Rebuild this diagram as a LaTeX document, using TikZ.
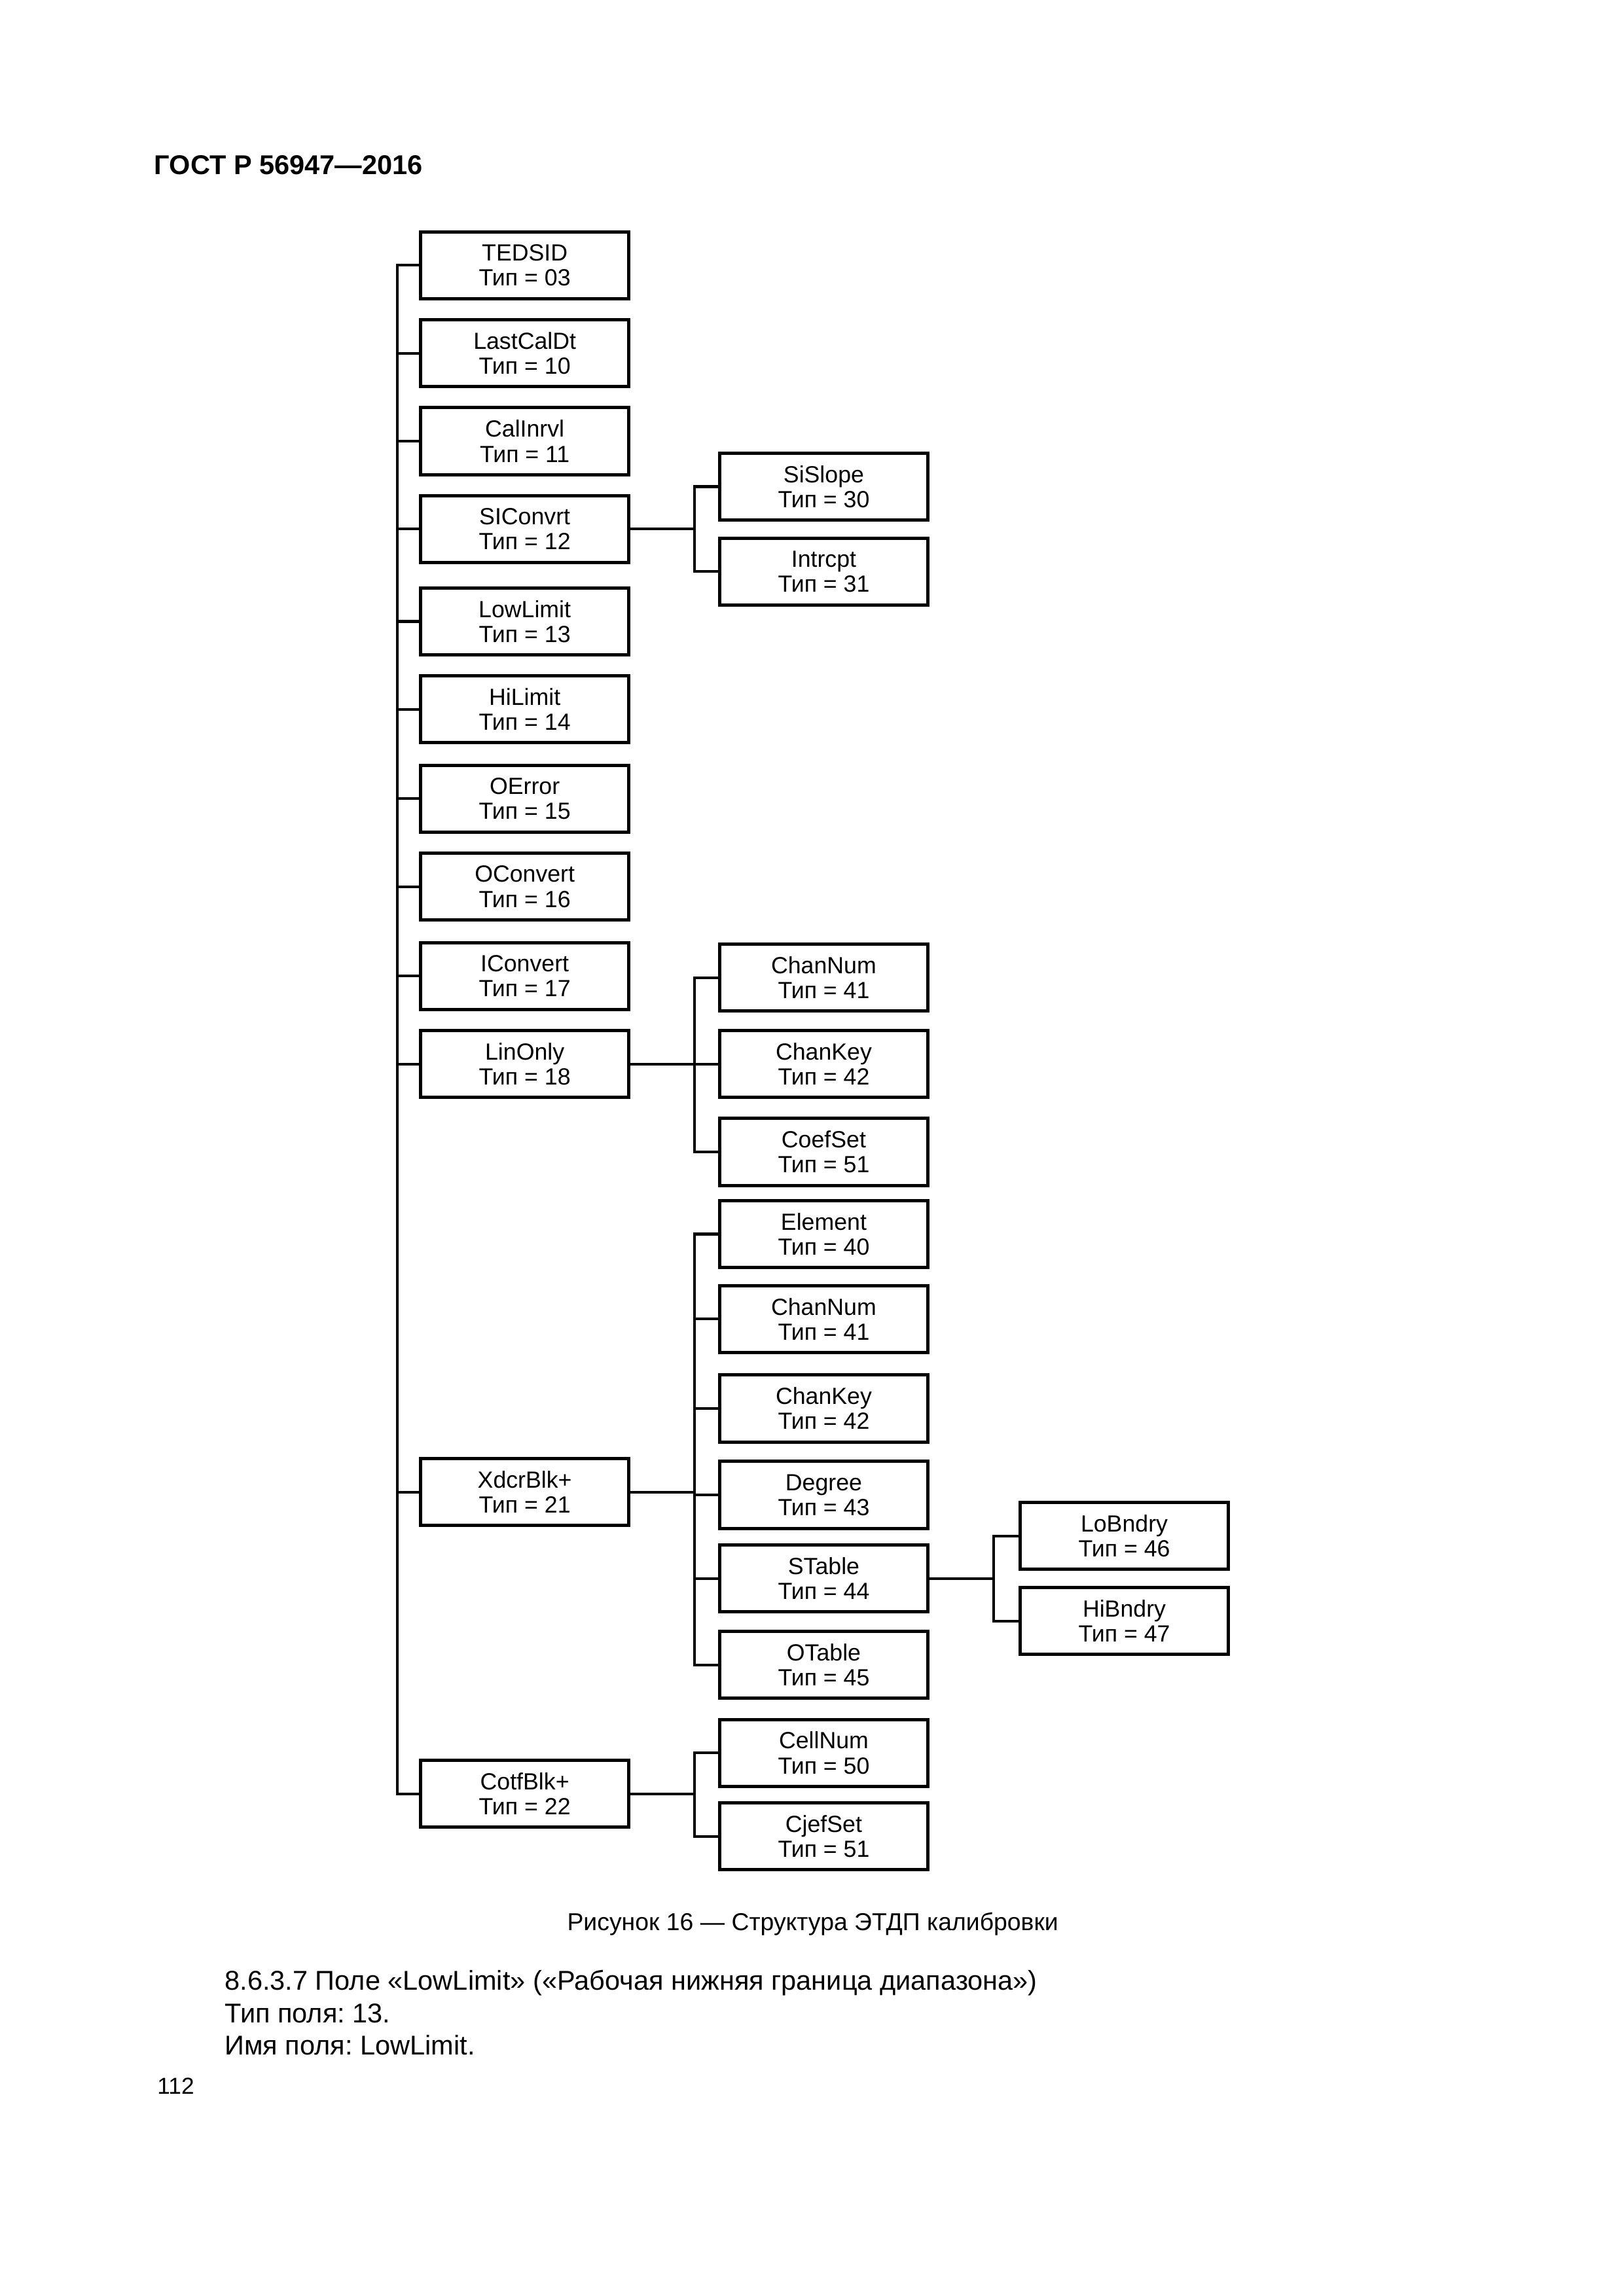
\documentclass[tikz,border=0pt]{standalone}
\usepackage{fontspec}
\setmainfont{Liberation Sans}
\frenchspacing
\tikzset{
  field/.style={draw, line width=1.2pt, minimum width=26.9mm, minimum height=8.65mm,
    inner sep=0pt, align=center, font=\fontsize{8.6}{9.2}\selectfont},
  link/.style={line width=1pt},
  plain/.style={inner sep=0pt, font=\fontsize{10}{12}\selectfont}
}

\begin{document}
\begin{tikzpicture}[x=0.18958mm,y=-0.18958mm]
\useasboundingbox (0,0) rectangle (1107.7,1566.6);
\fill[white] (0,0) rectangle (1107.7,1566.6);
\node[plain,anchor=base west,font=\bfseries\fontsize{10}{12}\selectfont] (hdr) at (105,119) {ГОСТ Р 56947—2016};

% first level
\node[field] (ted) at (358,181) {TEDSID\\Тип = 03};
\node[field] (lcd) at (358,241) {LastCalDt\\Тип = 10};
\node[field] (cal) at (358,301) {CalInrvl\\Тип = 11};
\node[field] (sic) at (358,361) {SIConvrt\\Тип = 12};
\node[field] (low) at (358,424) {LowLimit\\Тип = 13};
\node[field] (hil) at (358,484) {HiLimit\\Тип = 14};
\node[field] (oer) at (358,545) {OError\\Тип = 15};
\node[field] (ocv) at (358,605) {OConvert\\Тип = 16};
\node[field] (icv) at (358,666) {IConvert\\Тип = 17};
\node[field] (lin) at (358,726) {LinOnly\\Тип = 18};
\node[field] (xdc) at (358,1018) {XdcrBlk+\\Тип = 21};
\node[field] (cot) at (358,1224) {CotfBlk+\\Тип = 22};

% second level
\node[field] (sis) at (562,332) {SiSlope\\Тип = 30};
\node[field] (inc) at (562,390) {Intrcpt\\Тип = 31};
\node[field] (cn1) at (562,667) {ChanNum\\Тип = 41};
\node[field] (ck1) at (562,726) {ChanKey\\Тип = 42};
\node[field] (cfs) at (562,786) {CoefSet\\Тип = 51};
\node[field] (ele) at (562,842) {Element\\Тип = 40};
\node[field] (cn2) at (562,900) {ChanNum\\Тип = 41};
\node[field] (ck2) at (562,961) {ChanKey\\Тип = 42};
\node[field] (deg) at (562,1020) {Degree\\Тип = 43};
\node[field] (stb) at (562,1077) {STable\\Тип = 44};
\node[field] (otb) at (562,1136) {OTable\\Тип = 45};
\node[field] (cel) at (562,1196) {CellNum\\Тип = 50};
\node[field] (cjs) at (562,1253) {CjefSet\\Тип = 51};

% third level
\node[field] (lob) at (767,1048) {LoBndry\\Тип = 46};
\node[field] (hib) at (767,1106) {HiBndry\\Тип = 47};

% trunk
\draw[link] (ted.west) -- ++(-15,0) coordinate (trunk) |- (cot.west);
\foreach \n in {lcd,cal,sic,low,hil,oer,ocv,icv,lin,xdc}
  \draw[link] (\n.west) -- (\n.west -| trunk);

% branches
\draw[link] (sis.west) -- ++(-16,0) coordinate (b1) |- (inc.west);
\draw[link] (sic.east) -- (sic.east -| b1);
\draw[link] (cn1.west) -- ++(-16,0) coordinate (b2) |- (cfs.west);
\draw[link] (lin.east) -- (ck1.west);
\draw[link] (ele.west) -- ++(-16,0) coordinate (b3) |- (otb.west);
\foreach \n in {cn2,ck2,deg,stb}
  \draw[link] (\n.west) -- (\n.west -| b3);
\draw[link] (xdc.east) -- (xdc.east -| b3);
\draw[link] (cel.west) -- ++(-16,0) coordinate (b4) |- (cjs.west);
\draw[link] (cot.east) -- (cot.east -| b4);
\draw[link] (lob.west) -- ++(-17,0) coordinate (b5) |- (hib.west);
\draw[link] (stb.east) -- (stb.east -| b5);

% caption and text
\node[plain,anchor=base,font=\fontsize{9}{11}\selectfont] (cap) at (554.5,1317) {Рисунок 16 — Структура ЭТДП калибровки};
\node[plain,anchor=base west] (par1) at (153,1358) {8.6.3.7 Поле «LowLimit» («Рабочая нижняя граница диапазона»)};
\node[plain,anchor=base west] (par2) at (153,1380) {Тип поля: 13.};
\node[plain,anchor=base west] (par3) at (153,1402) {Имя поля: LowLimit.};
\node[plain,anchor=base west,font=\fontsize{8.5}{10}\selectfont] (pg) at (107,1429) {112};
\end{tikzpicture}
\end{document}
